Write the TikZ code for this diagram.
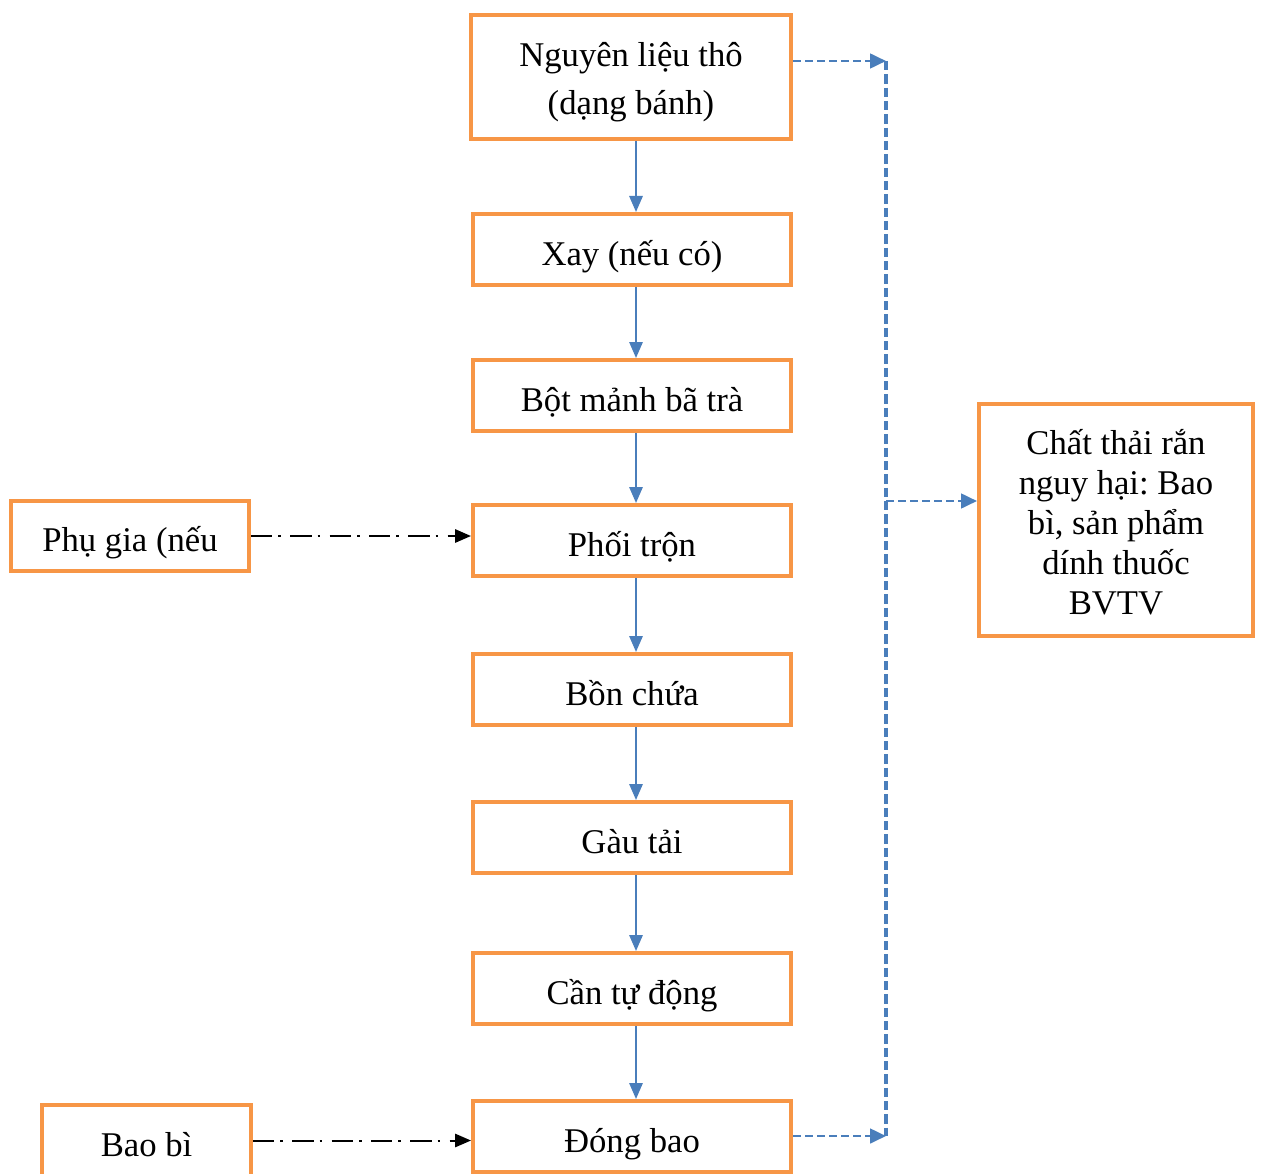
\documentclass[tikz,border=0pt]{standalone}
\usepackage{fontspec}
\setmainfont{Liberation Serif}
\frenchspacing
\usetikzlibrary{arrows.meta}
\definecolor{boxorange}{HTML}{F79646}
\definecolor{flowblue}{HTML}{4A7EBB}
\tikzset{
  stepbox/.style={draw=boxorange, line width=3pt, inner sep=0pt, align=center,
    minimum width=238.5pt, minimum height=53.25pt, text height=26pt, text depth=2.5pt,
    font=\fontsize{26pt}{36pt}\selectfont},
  multibox/.style={draw=boxorange, line width=3pt, inner sep=0pt, align=center},
  flow/.style={draw=flowblue, line width=1.5pt, -{Triangle[length=12pt,width=10pt]}},
  waste/.style={draw=flowblue, line width=2pt, dash pattern=on 6pt off 3pt, -{Triangle[length=12pt,width=11pt]}},
  wasteline/.style={draw=flowblue, line width=3pt, dash pattern=on 7pt off 3pt},
  feed/.style={draw=black, line width=1.5pt, dash pattern=on 16pt off 4.5pt on 2pt off 7pt, -{Triangle[length=12pt,width=10pt]}}
}
\begin{document}
\begin{tikzpicture}[x=0.75pt,y=-0.75pt]
\useasboundingbox (0,0) rectangle (1262,1173);
\node[multibox, minimum width=240pt, minimum height=93pt, text height=44pt, text depth=25pt,
  font=\fontsize{26pt}{36pt}\selectfont] (top) at (631,77)
  {\begin{tabular}{@{}c@{}}Nguyên liệu thô\\(dạng bánh)\end{tabular}};
\node[stepbox] (xay) at (632,249.5) {Xay (nếu có)};
\node[stepbox] (bot) at (632,395.5) {Bột mảnh bã trà};
\node[stepbox] (phoi) at (632,540.5) {Phối trộn};
\node[stepbox] (bon) at (632,689.5) {Bồn chứa};
\node[stepbox] (gau) at (632,837.5) {Gàu tải};
\node[stepbox] (can) at (632,988.5) {Cần tự động};
\node[stepbox] (dong) at (632,1136.5) {Đóng bao};
\node[stepbox, minimum width=178.5pt, minimum height=52.5pt] (phu) at (130,536) {Phụ gia (nếu};
\node[stepbox, minimum width=156.75pt] (bao) at (146.5,1140.5) {Bao bì};
\node[multibox, minimum width=205.5pt, minimum height=174pt, text height=86pt, text depth=64pt,
  font=\fontsize{26pt}{30pt}\selectfont] (rac) at (1116,520)
  {\begin{tabular}{@{}c@{}}Chất thải rắn\\nguy hại: Bao\\bì, sản phẩm\\dính thuốc\\BVTV\end{tabular}};

\foreach \a/\b in {top/xay,xay/bot,bot/phoi,phoi/bon,bon/gau,gau/can,can/dong}
  \draw[flow] ([xshift=3pt]\b.north |- \a.south) -- ([xshift=3pt]\b.north);

\coordinate (vt) at (886,61);
\coordinate (vb) at (886,1136);
\coordinate (vm) at (886,501);
\draw[wasteline] (vt) -- (vb);
\draw[waste] (top.east |- vt) -- (vt);
\draw[waste] (dong.east |- vb) -- (vb);
\draw[waste] (vm) -- (vm -| rac.west);

\draw[feed] (phu.east) -- (phu.east -| phoi.west);
\draw[feed] (bao.east) -- (bao.east -| dong.west);
\end{tikzpicture}
\end{document}
